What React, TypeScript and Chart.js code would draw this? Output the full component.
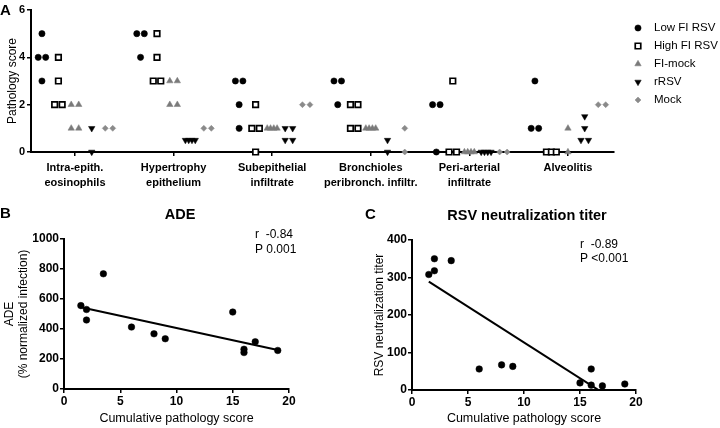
import React, { useEffect, useRef } from "react";
import { Chart, registerables } from "chart.js";
import { drawPoint } from "chart.js/helpers";

Chart.register(...registerables);

const FONT = "'Liberation Sans', Arial, Helvetica, sans-serif";

// ---------- Panel A data ----------
const categoryLabels: string[][] = [
  ["Intra-epith.", "eosinophils"],
  ["Hypertrophy", "epithelium"],
  ["Subepithelial", "infiltrate"],
  ["Bronchioles", "peribronch. infiltr."],
  ["Peri-arterial", "infiltrate"],
  ["Alveolitis"],
];
const groupNames = ["Low FI RSV", "High FI RSV", "FI-mock", "rRSV", "Mock"];
const lowFiRsv = [[5, 4, 4, 3], [5, 5, 4], [3, 3, 2, 1], [3, 3, 2], [2, 2, 0], [3, 1, 1]];
const highFiRsv = [[4, 3, 2, 2], [5, 4, 3, 3], [2, 1, 1, 0], [2, 2, 1, 1], [3, 0, 0], [0, 0, 0]];
const fiMock = [[2, 2, 1, 1], [3, 3, 2, 2], [1, 1, 1, 1], [1, 1, 1, 1], [0, 0, 0, 0], [1, 0]];
const rRsv = [[1, 0], [0.5, 0.5, 0.5, 0.5], [1, 1, 0.5, 0.5], [0.5, 0], [0, 0, 0, 0], [1.5, 1, 0.5, 0.5]];
const mock = [[1, 1], [1, 1], [2, 2], [1, 0], [0, 0], [2, 2]];
const pathologyTicks = [0, 2, 4, 6];

// ---------- Panel B data ----------
const adePathology = [1.5, 2, 2, 3.5, 6, 8, 9, 15, 16, 16, 17, 19];
const adeInfection = [556, 530, 460, 768, 413, 368, 335, 513, 265, 243, 315, 257];
const adeFitPathology = [1.5, 19];
const adeFitInfection = [545, 260];
const adeTicks = [0, 200, 400, 600, 800, 1000];

// ---------- Panel C data ----------
const titerPathology = [1.5, 2, 2, 3.5, 6, 8, 9, 15, 16, 16, 17, 19];
const titerValues = [308, 318, 350, 345, 56, 67, 63, 19, 56, 13, 11, 16];
const titerFitPathology = [1.5, 19];
const titerFitValues = [289, -45];
const titerTicks = [0, 100, 200, 300, 400];

const scoreTicks = [0, 5, 10, 15, 20];

type MarkerStyle = {
  pointStyle: any;
  radius: number;
  fill: string;
  stroke: string;
  borderWidth: number;
  rotation: number;
};
const markerStyles: MarkerStyle[] = [
  { pointStyle: "circle", radius: 3.1, fill: "#000", stroke: "#000", borderWidth: 0.6, rotation: 0 },
  { pointStyle: "rect", radius: 3.9, fill: "#fff", stroke: "#000", borderWidth: 1.7, rotation: 0 },
  { pointStyle: "triangle", radius: 3.7, fill: "#7a7a7a", stroke: "#7a7a7a", borderWidth: 0.5, rotation: 0 },
  { pointStyle: "triangle", radius: 3.7, fill: "#000", stroke: "#000", borderWidth: 0.5, rotation: 180 },
  { pointStyle: "rectRot", radius: 3, fill: "#8a8a8a", stroke: "#8a8a8a", borderWidth: 0.5, rotation: 0 },
];
const groupOffsets = [-0.335, -0.168, 0, 0.17, 0.345];
const DUP_STEP = 0.076;
const DUP_MAX = 0.1;

function spread(values: number[], center: number) {
  const counts = new Map<number, number>();
  values.forEach((v) => counts.set(v, (counts.get(v) || 0) + 1));
  const seen = new Map<number, number>();
  return values.map((v) => {
    const n = counts.get(v) || 1;
    const i = seen.get(v) || 0;
    seen.set(v, i + 1);
    const total = Math.min((n - 1) * DUP_STEP, DUP_MAX);
    const off = n > 1 ? -total / 2 + (i * total) / (n - 1) : 0;
    return { x: center + off, y: v };
  });
}

const axisBorder = { display: true, color: "#000", width: 2 };
const tickGrid = {
  display: true,
  drawOnChartArea: false,
  drawTicks: true,
  tickLength: 4,
  color: "#000",
  lineWidth: 1.5,
};
const boldTick = (size: number) => ({ family: FONT, size, weight: "bold" as const });
const plainLabel = (v: any) => String(v);

function makeA(canvas: HTMLCanvasElement) {
  const groups = [lowFiRsv, highFiRsv, fiMock, rRsv, mock];
  const datasets = groups.map((g, gi) => {
    const m = markerStyles[gi];
    const pts: { x: number; y: number }[] = [];
    g.forEach((vals, ci) => pts.push(...spread(vals, ci + groupOffsets[gi])));
    return {
      label: groupNames[gi],
      data: pts,
      pointStyle: m.pointStyle,
      pointRadius: m.radius,
      pointBackgroundColor: m.fill,
      pointBorderColor: m.stroke,
      pointBorderWidth: m.borderWidth,
      pointRotation: m.rotation,
      clip: false as const,
    };
  });
  const decor = {
    id: "decorA",
    afterDraw(chart: any) {
      const ctx = chart.ctx as CanvasRenderingContext2D;
      ctx.save();
      ctx.fillStyle = "#000";
      ctx.textAlign = "left";
      ctx.textBaseline = "alphabetic";
      ctx.font = `bold 15px ${FONT}`;
      ctx.fillText("A", 0, 15);
      ctx.font = `11.5px ${FONT}`;
      ctx.textBaseline = "middle";
      groupNames.forEach((name, i) => {
        const y = 28 + i * 18;
        const m = markerStyles[i];
        ctx.fillStyle = m.fill;
        ctx.strokeStyle = m.stroke;
        ctx.lineWidth = m.borderWidth;
        drawPoint(ctx, { pointStyle: m.pointStyle, radius: m.radius, rotation: m.rotation, borderWidth: m.borderWidth } as any, 638, y);
        ctx.fillStyle = "#000";
        ctx.fillText(name, 654, y);
      });
      ctx.restore();
    },
  };
  return new Chart(canvas, {
    type: "scatter",
    data: { datasets },
    options: {
      responsive: false,
      animation: false,
      events: [],
      layout: { padding: { left: 0, top: 10, right: 106, bottom: 0 } },
      plugins: { legend: { display: false }, tooltip: { enabled: false } },
      scales: {
        x: {
          type: "linear",
          min: -0.446,
          max: 5.467,
          afterBuildTicks: (s: any) => {
            s.ticks = categoryLabels.map((_, i) => ({ value: i }));
          },
          ticks: {
            callback: (v: any) => categoryLabels[Math.round(v)],
            font: { family: FONT, size: 11, weight: "bold", lineHeight: 1.35 },
            color: "#000",
            padding: 4.5,
            maxRotation: 0,
            autoSkip: false,
          },
          grid: tickGrid,
          border: axisBorder,
          afterFit: (s: any) => {
            s.height = 43;
          },
        },
        y: {
          type: "linear",
          min: 0,
          max: 6,
          afterBuildTicks: (s: any) => {
            s.ticks = pathologyTicks.map((v) => ({ value: v }));
          },
          ticks: { font: boldTick(11), color: "#000", padding: 2, callback: plainLabel },
          grid: tickGrid,
          border: axisBorder,
          title: {
            display: true,
            text: "Pathology score",
            font: { family: FONT, size: 12 },
            color: "#000",
            padding: { top: 5, bottom: 0 },
          },
          afterFit: (s: any) => {
            s.width = 31;
          },
        },
      },
    },
    plugins: [decor],
  } as any);
}

function makeCorrelation(
  canvas: HTMLCanvasElement,
  cfg: {
    letter: string;
    letterX: number;
    letterY: number;
    title: string;
    titleX: number;
    titleY: number;
    r: string;
    p: string;
    annX: number;
    annY1: number;
    annY2: number;
    xs: number[];
    ys: number[];
    fitX: number[];
    fitY: number[];
    yMax: number;
    yTicks: number[];
    yTitle: string | string[];
    yTitlePad: number;
    yWidth: number;
    padTop: number;
    padRight: number;
    xHeight: number;
  }
) {
  const decor = {
    id: "decor" + cfg.letter,
    afterDraw(chart: any) {
      const ctx = chart.ctx as CanvasRenderingContext2D;
      ctx.save();
      ctx.fillStyle = "#000";
      ctx.textAlign = "left";
      ctx.textBaseline = "alphabetic";
      ctx.font = `bold 15px ${FONT}`;
      ctx.fillText(cfg.letter, cfg.letterX, cfg.letterY);
      ctx.font = `bold 14.5px ${FONT}`;
      ctx.textAlign = "center";
      ctx.textBaseline = "middle";
      ctx.fillText(cfg.title, cfg.titleX, cfg.titleY);
      ctx.font = `12px ${FONT}`;
      ctx.textAlign = "left";
      ctx.textBaseline = "alphabetic";
      ctx.fillText(cfg.r, cfg.annX, cfg.annY1);
      ctx.fillText(cfg.p, cfg.annX, cfg.annY2);
      ctx.restore();
    },
  };
  return new Chart(canvas, {
    type: "scatter",
    data: {
      datasets: [
        {
          data: cfg.xs.map((x, i) => ({ x, y: cfg.ys[i] })),
          pointRadius: 3.3,
          pointBackgroundColor: "#000",
          pointBorderColor: "#000",
          pointBorderWidth: 0.5,
          clip: false,
        },
        {
          data: cfg.fitX.map((x, i) => ({ x, y: cfg.fitY[i] })),
          showLine: true,
          pointRadius: 0,
          borderColor: "#000",
          borderWidth: 2,
        },
      ],
    },
    options: {
      responsive: false,
      animation: false,
      events: [],
      layout: { padding: { left: 0, top: cfg.padTop, right: cfg.padRight, bottom: 0 } },
      plugins: { legend: { display: false }, tooltip: { enabled: false } },
      scales: {
        x: {
          type: "linear",
          min: 0,
          max: 20,
          afterBuildTicks: (s: any) => {
            s.ticks = scoreTicks.map((v) => ({ value: v }));
          },
          ticks: { font: boldTick(12), color: "#000", padding: 1.5, maxRotation: 0, callback: plainLabel },
          grid: tickGrid,
          border: axisBorder,
          title: {
            display: true,
            text: "Cumulative pathology score",
            font: { family: FONT, size: 12.5 },
            color: "#000",
            padding: { top: 0, bottom: 2 },
          },
          afterFit: (s: any) => {
            s.height = cfg.xHeight;
          },
        },
        y: {
          type: "linear",
          min: 0,
          max: cfg.yMax,
          afterBuildTicks: (s: any) => {
            s.ticks = cfg.yTicks.map((v) => ({ value: v }));
          },
          ticks: { font: boldTick(12), color: "#000", padding: 1, callback: plainLabel },
          grid: tickGrid,
          border: axisBorder,
          title: {
            display: true,
            text: cfg.yTitle,
            font: { family: FONT, size: 12, lineHeight: 1.17 },
            color: "#000",
            padding: { top: cfg.yTitlePad, bottom: 0 },
          },
          afterFit: (s: any) => {
            s.width = cfg.yWidth;
          },
        },
      },
    },
    plugins: [decor],
  } as any);
}

export default function App() {
  const refA = useRef<HTMLCanvasElement>(null);
  const refB = useRef<HTMLCanvasElement>(null);
  const refC = useRef<HTMLCanvasElement>(null);

  useEffect(() => {
    document.body.style.margin = "0";
    const charts: Chart[] = [];
    if (refA.current) charts.push(makeA(refA.current));
    if (refB.current)
      charts.push(
        makeCorrelation(refB.current, {
          letter: "B",
          letterX: 0,
          letterY: 23,
          title: "ADE",
          titleX: 180,
          titleY: 20,
          r: "r  -0.84",
          p: "P 0.001",
          annX: 255,
          annY1: 43,
          annY2: 58,
          xs: adePathology,
          ys: adeInfection,
          fitX: adeFitPathology,
          fitY: adeFitInfection,
          yMax: 1000,
          yTicks: adeTicks,
          yTitle: ["ADE", "(% normalized infection)"],
          yTitlePad: 2.8,
          yWidth: 64,
          padTop: 44,
          padRight: 71,
          xHeight: 39,
        })
      );
    if (refC.current)
      charts.push(
        makeCorrelation(refC.current, {
          letter: "C",
          letterX: 5,
          letterY: 24,
          title: "RSV neutralization titer",
          titleX: 167,
          titleY: 21,
          r: "r  -0.89",
          p: "P <0.001",
          annX: 220,
          annY1: 53,
          annY2: 67,
          xs: titerPathology,
          ys: titerValues,
          fitX: titerFitPathology,
          fitY: titerFitValues,
          yMax: 400,
          yTicks: titerTicks,
          yTitle: "RSV neutralization titer",
          yTitlePad: 12.8,
          yWidth: 52,
          padTop: 45,
          padRight: 84,
          xHeight: 38,
        })
      );
    return () => charts.forEach((c) => c.destroy());
  }, []);

  return (
    <div style={{ position: "absolute", left: 0, top: 0, width: 720, height: 428, background: "#fff" }}>
      <canvas ref={refA} width={720} height={195} style={{ position: "absolute", left: 0, top: 0, width: 720, height: 195 }} />
      <canvas ref={refB} width={360} height={233} style={{ position: "absolute", left: 0, top: 195, width: 360, height: 233 }} />
      <canvas ref={refC} width={360} height={233} style={{ position: "absolute", left: 360, top: 195, width: 360, height: 233 }} />
    </div>
  );
}
